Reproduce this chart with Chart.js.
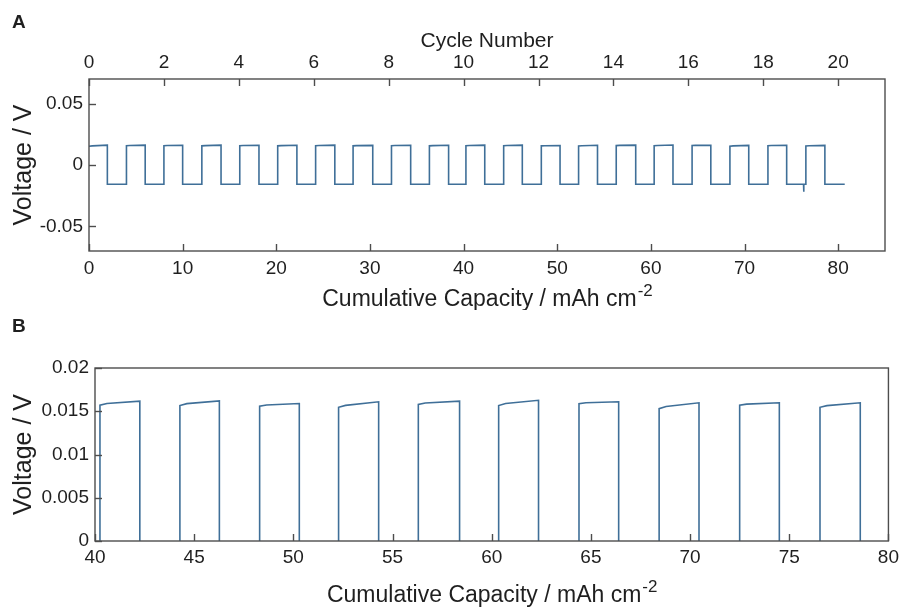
<!DOCTYPE html>
<html>
<head>
<meta charset="utf-8">
<script src="https://cdn.jsdelivr.net/npm/chart.js@4.4.1/dist/chart.umd.min.js"></script>
<style>
  body { margin: 0; background: #fff; }
  canvas { position: absolute; left: 0; }
</style>
</head>
<body>
<canvas id="chartA" width="904" height="310" style="top:0"></canvas>
<canvas id="chartB" width="904" height="297" style="top:310px"></canvas>
<script>
'use strict';

// cumulative capacity (mAh cm-2) where each charge half-cycle starts and ends
const riseCap = [0, 4.0, 8.0, 12.05, 16.1, 20.15, 24.2, 28.2, 32.3, 36.35,
                 40.25, 44.28, 48.3, 52.28, 56.3, 60.35, 64.4, 68.44, 72.5, 76.55];
const fallCap = [1.96, 6.0, 10.0, 14.1, 18.15, 22.2, 26.25, 30.3, 34.35, 38.4,
                 42.26, 46.27, 50.3, 54.3, 58.38, 62.36, 66.4, 70.45, 74.5, 78.58];
const endCap = 80.7;

// voltage (V) on the positive half: at start, just after the knee, at end
const highStart = [0.0152, 0.0157, 0.0157, 0.0156, 0.0157, 0.0156, 0.0157, 0.0156, 0.0157, 0.0156,
                   0.0157, 0.01566, 0.01558, 0.01546, 0.01578, 0.01566, 0.01586, 0.0153, 0.0157, 0.01546];
const highKnee  = [0.0156, 0.0159, 0.0159, 0.0158, 0.0159, 0.0158, 0.0159, 0.0158, 0.0159, 0.0158,
                   0.0159, 0.01588, 0.01572, 0.01568, 0.01596, 0.01590, 0.01598, 0.01555, 0.01582, 0.01565];
const highEnd   = [0.0162, 0.0162, 0.0161, 0.0162, 0.0161, 0.0161, 0.0162, 0.0160, 0.0161, 0.0161,
                   0.01616, 0.0162, 0.0159, 0.01609, 0.01616, 0.01627, 0.01609, 0.01598, 0.01598, 0.01598];
const kneeLag = 0.35;

// voltage (V) on the negative half after each fall
const lowV = [-0.0157, -0.0157, -0.0157, -0.0157, -0.0157, -0.0157, -0.0157, -0.0157, -0.0157, -0.0157,
              -0.0157, -0.0157, -0.0157, -0.0157, -0.0157, -0.0157, -0.0157, -0.0157, -0.0157, -0.0157];
const spikeCap = [76.3];
const spikeV = [-0.0217];

const cycleTicks = [0, 2, 4, 6, 8, 10, 12, 14, 16, 18, 20];
const capTicksA = [0, 10, 20, 30, 40, 50, 60, 70, 80];
const voltTicksA = [-0.05, 0, 0.05];
const capTicksB = [40, 45, 50, 55, 60, 65, 70, 75, 80];
const voltTicksB = [0, 0.005, 0.01, 0.015, 0.02];

const lineColor = '#3f6f98';
const axisColor = '#4d4d4d';
const textColor = '#1f1f1f';
const fontFam = '"Liberation Sans", Arial, sans-serif';

// build the trace
const trace = [];
for (let i = 0; i < riseCap.length; i++) {
    if (i > 0) trace.push({x: riseCap[i], y: lowV[i - 1]});
    trace.push({x: riseCap[i], y: highStart[i]});
    trace.push({x: riseCap[i] + kneeLag, y: highKnee[i]});
    trace.push({x: fallCap[i], y: highEnd[i]});
    trace.push({x: fallCap[i], y: lowV[i]});
    for (let k = 0; k < spikeCap.length; k++) {
        const nextRise = i + 1 < riseCap.length ? riseCap[i + 1] : endCap;
        if (spikeCap[k] > fallCap[i] && spikeCap[k] < nextRise) {
            trace.push({x: spikeCap[k], y: lowV[i]});
            trace.push({x: spikeCap[k] + 0.02, y: spikeV[k]});
            trace.push({x: spikeCap[k] + 0.04, y: lowV[i]});
        }
    }
}
trace.push({x: endCap, y: lowV[lowV.length - 1]});

const fmt = (v) => String(+Number(v).toFixed(4));
const setTicks = (arr) => (s) => { s.ticks = arr.map((v) => ({value: v})); };

const framePlugin = {
    id: 'frame',
    afterDraw(chart, args, opts) {
        const {ctx, chartArea: a} = chart;
        ctx.save();
        ctx.strokeStyle = axisColor;
        ctx.lineWidth = 1.4;
        ctx.strokeRect(a.left, a.top, a.right - a.left, a.bottom - a.top);
        for (const id of opts.tickAxes) {
            const s = chart.scales[id];
            for (const t of s.ticks) {
                const p = Math.round(s.getPixelForValue(t.value)) + 0.5;
                ctx.beginPath();
                if (s.position === 'left') { ctx.moveTo(a.left, p); ctx.lineTo(a.left + 7, p); }
                else if (s.position === 'bottom') { ctx.moveTo(p, a.bottom); ctx.lineTo(p, a.bottom - 7); }
                else { ctx.moveTo(p, a.top); ctx.lineTo(p, a.top + 7); }
                ctx.stroke();
            }
        }
        ctx.fillStyle = textColor;
        for (const t of opts.titles) {
            ctx.save();
            ctx.font = t.size + 'px ' + fontFam;
            const w1 = ctx.measureText(t.text).width;
            let w2 = 0;
            if (t.sup) {
                ctx.font = Math.round(t.size * 0.72) + 'px ' + fontFam;
                w2 = ctx.measureText(t.sup).width;
            }
            const cx = t.rotate ? t.x : (a.left + a.right) / 2;
            const cy = t.rotate ? (a.top + a.bottom) / 2 : t.y;
            ctx.translate(cx, cy);
            if (t.rotate) ctx.rotate(-Math.PI / 2);
            ctx.textBaseline = 'alphabetic';
            ctx.textAlign = 'left';
            ctx.font = t.size + 'px ' + fontFam;
            ctx.fillText(t.text, -(w1 + w2) / 2, 0);
            if (t.sup) {
                ctx.font = Math.round(t.size * 0.72) + 'px ' + fontFam;
                ctx.fillText(t.sup, -(w1 + w2) / 2 + w1 + 1, -t.size * 0.45);
            }
            ctx.restore();
        }
        ctx.font = 'bold 19px ' + fontFam;
        ctx.textAlign = 'left';
        ctx.fillText(opts.panel, 12, opts.panelY);
        ctx.restore();
    }
};

const tickFont = {family: fontFam, size: 19};

const dataset = {
    data: trace,
    borderColor: lineColor,
    backgroundColor: lineColor,
    borderWidth: 1.6,
    pointRadius: 0,
    tension: 0,
};

const gridOff = {display: false, drawTicks: false};

new Chart(document.querySelector('#chartA'), {
    type: 'line',
    data: {datasets: [dataset]},
    options: {
        responsive: false,
        animation: false,
        layout: {padding: {left: 0, right: 19, top: 0, bottom: 0}},
        plugins: {
            legend: {display: false},
            tooltip: {enabled: false},
            frame: {
                tickAxes: ['x', 'x2', 'y'],
                panel: 'A', panelY: 28,
                titles: [
                    {text: 'Cumulative Capacity / mAh cm', sup: '-2', size: 23, y: 306},
                    {text: 'Cycle Number', size: 21, y: 47},
                    {text: 'Voltage / V', size: 25, rotate: true, x: 31},
                ],
            },
        },
        scales: {
            x: {
                type: 'linear', position: 'bottom', min: 0, max: 85,
                grid: gridOff, border: {display: false},
                afterBuildTicks: setTicks(capTicksA),
                afterFit: (s) => { s.height = 59; },
                ticks: {font: tickFont, color: textColor, padding: 6, maxRotation: 0, callback: fmt},
            },
            x2: {
                type: 'linear', position: 'top', min: 0, max: 21.25,
                grid: gridOff, border: {display: false},
                afterBuildTicks: setTicks(cycleTicks),
                afterFit: (s) => { s.height = 79; },
                ticks: {font: tickFont, color: textColor, padding: 5, maxRotation: 0, callback: fmt},
            },
            y: {
                type: 'linear', position: 'left', min: -0.07, max: 0.07,
                grid: gridOff, border: {display: false},
                afterBuildTicks: setTicks(voltTicksA),
                afterFit: (s) => { s.width = 89; },
                ticks: {font: tickFont, color: textColor, padding: 6, callback: fmt},
            },
        },
    },
    plugins: [framePlugin],
});

new Chart(document.querySelector('#chartB'), {
    type: 'line',
    data: {datasets: [dataset]},
    options: {
        responsive: false,
        animation: false,
        layout: {padding: {left: 0, right: 15, top: 58, bottom: 0}},
        plugins: {
            legend: {display: false},
            tooltip: {enabled: false},
            frame: {
                tickAxes: ['x', 'y'],
                panel: 'B', panelY: 22,
                titles: [
                    {text: 'Cumulative Capacity / mAh cm', sup: '-2', size: 23, y: 292},
                    {text: 'Voltage / V', size: 25, rotate: true, x: 31},
                ],
            },
        },
        scales: {
            x: {
                type: 'linear', position: 'bottom', min: 40, max: 80,
                grid: gridOff, border: {display: false},
                afterBuildTicks: setTicks(capTicksB),
                afterFit: (s) => { s.height = 66; },
                ticks: {font: tickFont, color: textColor, padding: 5, maxRotation: 0, callback: fmt},
            },
            y: {
                type: 'linear', position: 'left', min: 0, max: 0.02,
                grid: gridOff, border: {display: false},
                afterBuildTicks: setTicks(voltTicksB),
                afterFit: (s) => { s.width = 95; },
                ticks: {font: tickFont, color: textColor, padding: 6, callback: fmt},
            },
        },
    },
    plugins: [framePlugin],
});
</script>
</body>
</html>
